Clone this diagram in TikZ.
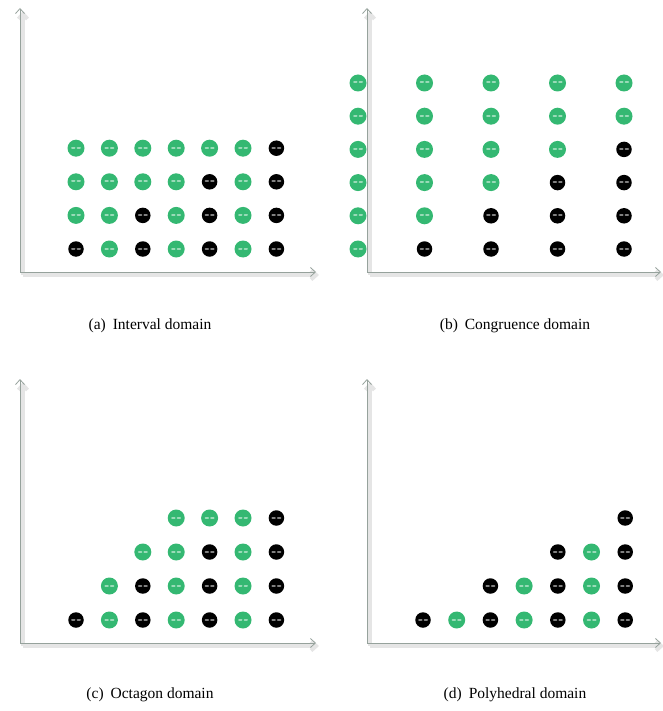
\documentclass[tikz,border=0pt]{standalone}
\usepackage{fontspec}
\setmainfont{Liberation Serif}
\usepackage{xcolor}
\usepackage{tikz}
\usetikzlibrary{arrows.meta,calc,positioning}
\definecolor{mygreen}{RGB}{52,184,114}
\definecolor{myaxis}{RGB}{150,162,156}

\begin{document}
\begin{tikzpicture}[x=1pt, y=-1pt,
    dotbase/.style={circle, inner sep=0pt, draw=none,
        path picture={\draw[white, opacity=0.5, line width=2pt, line cap=round]
            ([xshift=-4pt, yshift=0.5pt]path picture bounding box.center) -- ([xshift=-1.5pt, yshift=0.5pt]path picture bounding box.center)
            ([xshift=1.5pt, yshift=0.5pt]path picture bounding box.center) -- ([xshift=4pt, yshift=0.5pt]path picture bounding box.center);}},
    dotG/.style={dotbase, fill=mygreen, minimum size=17pt},
    dotK/.style={dotbase, fill=black, minimum size=15.5pt},
    axisline/.style={draw=myaxis, line width=0.8pt, -{Straight Barb[length=5pt, width=9pt]},
        preaction={draw=black!10, line width=4pt, transform canvas={shift={(3pt,-3pt)}}}},
    caption/.style={font=\fontsize{15.5}{18}\selectfont},
]
    \useasboundingbox (0,0) rectangle (662,711);

    % axes of the four panels
    \foreach \p/\ox/\oy/\rx in {a/20/272/316, b/367/272/661, c/20/643/316, d/367/643/661} {
        \coordinate (\p-org) at (\ox, \oy);
        \coordinate (\p-top) at (\ox, \oy-264);
        \coordinate (\p-end) at (\rx, \oy);
        \draw[axisline] (\p-org) -- (\p-top);
        \draw[axisline] (\p-org) -- (\p-end);
    }

    % (a) interval domain
    \foreach \j/\cols in {1/{K,G,K,G,K,G,K}, 2/{G,G,K,G,K,G,K}, 3/{G,G,G,G,K,G,K}, 4/{G,G,G,G,G,G,K}} {
        \foreach \c [count=\i] in \cols {
            \node[dot\c] (a-\j-\i) at (76+33.4*\i-33.4, 249-33.6*\j+33.6) {};
        }
    }

    % (b) congruence domain
    \foreach \j/\cols in {1/{G,K,K,K,K}, 2/{G,G,K,K,K}, 3/{G,G,G,K,K}, 4/{G,G,G,G,K}, 5/{G,G,G,G,G}, 6/{G,G,G,G,G}} {
        \foreach \c [count=\i] in \cols {
            \node[dot\c] (b-\j-\i) at (358+66.5*\i-66.5, 249-33.2*\j+33.2) {};
        }
    }

    % (c) octagon domain
    \foreach \j/\first/\cols in {1/1/{K,G,K,G,K,G,K}, 2/2/{G,K,G,K,G,K}, 3/3/{G,G,K,G,K}, 4/4/{G,G,G,K}} {
        \foreach \c [count=\i from \first] in \cols {
            \node[dot\c] (c-\j-\i) at (76+33.4*\i-33.4, 620-34*\j+34) {};
        }
    }

    % (d) polyhedral domain
    \foreach \j/\first/\cols in {1/1/{K,G,K,G,K,G,K}, 2/3/{K,G,K,G,K}, 3/5/{K,G,K}, 4/7/{K}} {
        \foreach \c [count=\i from \first] in \cols {
            \node[dot\c] (d-\j-\i) at (423+33.7*\i-33.7, 620-34*\j+34) {};
        }
    }

    % captions
    \node[caption] (cap-a) at (150, 326) {(a)\hspace{0.45em}Interval domain};
    \node[caption] (cap-b) at (515, 326) {(b)\hspace{0.45em}Congruence domain};
    \node[caption] (cap-c) at (150, 695) {(c)\hspace{0.45em}Octagon domain};
    \node[caption] (cap-d) at (515, 695) {(d)\hspace{0.45em}Polyhedral domain};
\end{tikzpicture}
\end{document}
